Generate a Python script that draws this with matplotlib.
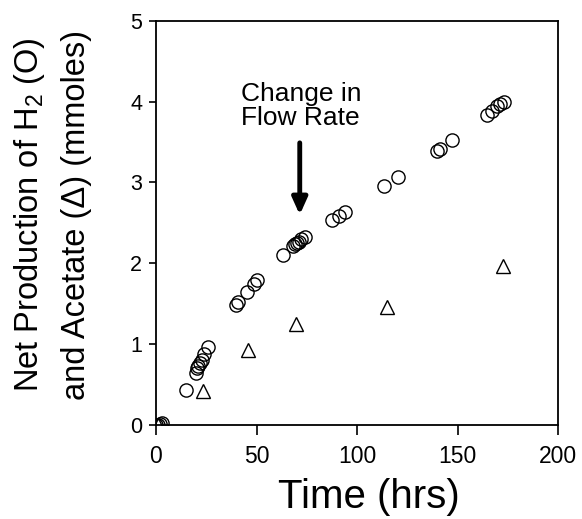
import matplotlib
matplotlib.use("Agg")
import matplotlib.pyplot as plt

plt.rcParams["font.family"] = ["Liberation Sans", "DejaVu Sans"]
plt.rcParams["mathtext.default"] = "regular"

# hydrogen production (circles)
h2_time = [0, 1, 2, 3, 15, 20, 20.5, 21, 22, 23, 24, 26,
           40, 41, 45.5, 48.5, 50, 63, 68, 69, 70, 71, 72, 74,
           87.5, 91, 94, 113.5, 120.5, 140, 141, 147,
           164.5, 167, 169.5, 171, 173]
h2_mmol = [0.0, 0.0, 0.01, 0.02, 0.43, 0.65, 0.7, 0.73, 0.77, 0.8, 0.88, 0.97,
           1.49, 1.52, 1.65, 1.75, 1.79, 2.1, 2.22, 2.24, 2.25, 2.27, 2.3, 2.32,
           2.53, 2.58, 2.63, 2.96, 3.07, 3.39, 3.41, 3.53,
           3.83, 3.89, 3.94, 3.97, 3.99]

# acetate production (triangles)
ac_time = [1, 23.5, 46, 69.5, 115, 172.5]
ac_mmol = [0.0, 0.42, 0.93, 1.25, 1.46, 1.97]

flow_change = 71.5

fig = plt.figure(figsize=(5.82, 5.19), dpi=100)
ax = fig.add_axes([0.268, 0.181, 0.691, 0.779])

ax.plot(h2_time, h2_mmol, "o", ms=9.5, mfc="none", mec="black", mew=1.0)
ax.plot(ac_time, ac_mmol, "^", ms=10, mfc="none", mec="black", mew=1.0)

ax.annotate("", xy=(flow_change, 2.6), xytext=(flow_change, 3.49),
            arrowprops=dict(arrowstyle="-|>,head_width=0.45,head_length=1.0",
                            color="black", lw=3.5, shrinkA=0, shrinkB=0))
ax.text(72, 3.94, "Change in\nFlow Rate", ha="center", va="center",
        fontsize=19, linespacing=1.0)

ax.set_xlim(0, 200)
ax.set_ylim(0, 5)
ax.set_xticks([0, 50, 100, 150, 200])
ax.set_yticks([0, 1, 2, 3, 4, 5])
ax.tick_params(direction="out", width=1.2)
ax.tick_params(axis="x", length=7, labelsize=16.5, pad=7)
ax.tick_params(axis="y", length=5, labelsize=15.5, pad=5)
for s in ax.spines.values():
    s.set_linewidth(1.3)

ax.set_xlabel("Time (hrs)", fontsize=29)
ax.xaxis.set_label_coords(0.53, -0.13)
ax.set_ylabel("Net Production of H$_2$ (O)\nand Acetate (Δ) (mmoles)",
              fontsize=23.5, linespacing=1.55)
ax.yaxis.set_label_coords(-0.16, 0.52)

fig.savefig("out.png", dpi=100)
